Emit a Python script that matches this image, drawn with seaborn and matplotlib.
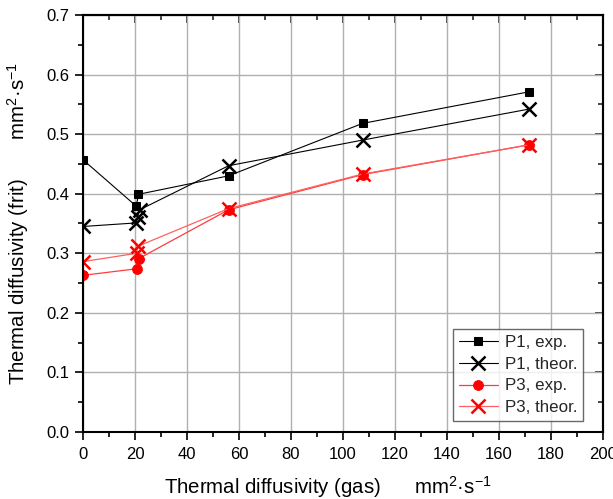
import matplotlib
matplotlib.use("Agg")
import matplotlib.pyplot as plt
import seaborn as sns
import numpy as np
from matplotlib.ticker import MultipleLocator

sns.set_theme(style="white")
plt.rcParams['font.family'] = ['Liberation Sans', 'DejaVu Sans']
plt.rcParams['mathtext.fontset'] = 'custom'
plt.rcParams['mathtext.rm'] = 'Liberation Sans'
plt.rcParams['mathtext.it'] = 'Liberation Sans:italic'

# data
p1_exp_x = [0, 20.5, 21.3, 56, 107.5, 171.5]
p1_exp_y = [0.457, 0.379, 0.399, 0.430, 0.518, 0.571]
p1_th_x = [0, 20.5, 21.0, 21.8, 56, 107.5, 171.5]
p1_th_y = [0.345, 0.351, 0.361, 0.373, 0.447, 0.490, 0.542]
p3_exp_x = [0, 20.6, 21.4, 56, 107.5, 171.5]
p3_exp_y = [0.263, 0.274, 0.291, 0.373, 0.432, 0.482]
p3_th_x = [0, 20.6, 21.2, 56, 107.5, 171.5]
p3_th_y = [0.286, 0.300, 0.312, 0.375, 0.433, 0.482]

fig = plt.figure(figsize=(6.13, 4.99), dpi=100)
ax = fig.add_axes([83/613, 1-432/499, 520/613, 417/499])

sns.lineplot(x=p1_exp_x, y=p1_exp_y, sort=False, estimator=None, ax=ax,
             color='black', lw=0.8, marker='s', markersize=6, mec='black', mfc='black',
             label='P1, exp.')
sns.lineplot(x=p1_th_x, y=p1_th_y, sort=False, estimator=None, ax=ax,
             color='black', lw=0.8, marker='x', markersize=10, mew=1.8, mec='black',
             label='P1, theor.')
sns.lineplot(x=p3_exp_x, y=p3_exp_y, sort=False, estimator=None, ax=ax,
             color='#ff3c3c', lw=0.9, marker='o', markersize=7, mec='red', mfc='red',
             label='P3, exp.')
sns.lineplot(x=p3_th_x, y=p3_th_y, sort=False, estimator=None, ax=ax,
             color='#ff6060', lw=0.9, marker='x', markersize=10, mew=1.8, mec='red',
             label='P3, theor.')

ax.set_xlim(0, 200)
ax.set_ylim(0, 0.7)
ax.xaxis.set_major_locator(MultipleLocator(20))
ax.xaxis.set_minor_locator(MultipleLocator(10))
ax.yaxis.set_major_locator(MultipleLocator(0.1))
ax.yaxis.set_minor_locator(MultipleLocator(0.05))
ax.yaxis.set_major_formatter(matplotlib.ticker.FormatStrFormatter('%.1f'))
ax.grid(True, which='major', color='#b0b0b0', lw=1.0)

for s in ax.spines.values():
    s.set_color('black')
    s.set_linewidth(1.5)

ax.tick_params(which='both', bottom=True, left=True, top=False, right=False,
               direction='out', colors='black', labelsize=12, width=1.2)
ax.tick_params(which='major', length=6)
ax.tick_params(which='minor', length=3.5)
ax.tick_params(axis='x', which='major', pad=5)

# inward ticks on top and right
axt = ax.secondary_xaxis('top')
axt.xaxis.set_major_locator(MultipleLocator(20))
axt.xaxis.set_minor_locator(MultipleLocator(10))
axt.tick_params(which='both', direction='in', labeltop=False, width=1.2)
axt.tick_params(which='major', length=6)
axt.tick_params(which='minor', length=3.5)
axr = ax.secondary_yaxis('right')
axr.yaxis.set_major_locator(MultipleLocator(0.1))
axr.yaxis.set_minor_locator(MultipleLocator(0.05))
axr.tick_params(which='both', direction='in', labelright=False, width=1.2)
axr.tick_params(which='major', length=6)
axr.tick_params(which='minor', length=3.5)
for a in (axt, axr):
    for s in a.spines.values():
        s.set_linewidth(1.5)

ax.set_xlabel('Thermal diffusivity (gas)      mm$^2$·s$^{-1}$', fontsize=14.7, color='black')
ax.set_ylabel('Thermal diffusivity (frit)       mm$^2$·s$^{-1}$', fontsize=14.7, color='black')
ax.xaxis.set_label_coords(0.47, -0.1)
ax.yaxis.set_label_coords(-0.1, 0.5)

leg = ax.legend(loc='lower right', bbox_to_anchor=(0.9615, 0.026), frameon=True, fancybox=False,
                edgecolor='#444444', fontsize=12.2, handlelength=2.3, borderpad=0.35,
                labelspacing=0.4, handletextpad=0.4, borderaxespad=0)
leg.get_frame().set_linewidth(1.0)

fig.savefig('out.png', dpi=100)
